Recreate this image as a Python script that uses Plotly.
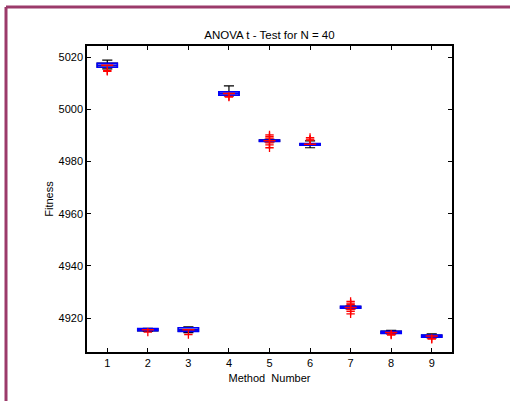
import plotly.graph_objects as go

methods = [1, 2, 3, 4, 5, 6, 7, 8, 9]
q1 = [5016.2, 4915.1, 4914.9, 5005.4, 4987.7, 4986.3, 4923.8, 4914.1, 4912.7]
med = [5016.9, 4915.5, 4915.5, 5006.1, 4988.0, 4986.6, 4924.1, 4914.5, 4913.1]
q3 = [5017.7, 4916.0, 4916.3, 5006.8, 4988.3, 4986.9, 4924.5, 4915.0, 4913.5]
lo = [5015.5, 4914.9, 4914.4, 5005.2, 4987.5, 4985.3, 4923.5, 4913.9, 4912.4]
hi = [5018.9, 4916.1, 4916.6, 5009.0, 4988.5, 4987.9, 4924.7, 4915.3, 4914.0]
outliers = [
    [5014.6, 5014.9],
    [4914.6],
    [4913.7],
    [5004.7, 5005.0],
    [4990.2, 4989.6, 4989.0, 4987.2, 4986.4, 4985.3],
    [4989.2, 4988.6, 4988.2],
    [4926.4, 4925.7, 4925.2, 4923.3, 4922.6, 4921.6],
    [4913.5, 4913.8],
    [4911.9, 4912.2],
]
y_ticks = [4920, 4940, 4960, 4980, 5000, 5020]

FONT = "Liberation Sans, Arial"

fig = go.Figure()
# whiskers / caps in black
fig.add_trace(go.Box(
    x=methods, q1=q1, median=med, q3=q3, lowerfence=lo, upperfence=hi,
    width=0.5, whiskerwidth=0.5, boxpoints=False,
    line=dict(color="#000000", width=1.2), fillcolor="rgba(255,255,255,0)",
    showlegend=False, hoverinfo="skip",
))
# blue box body on top
fig.add_trace(go.Box(
    x=methods, q1=q1, median=med, q3=q3, lowerfence=q1, upperfence=q3,
    width=0.5, whiskerwidth=0, boxpoints=False,
    line=dict(color="#0000ff", width=1.5), fillcolor="rgba(255,255,255,0)",
    showlegend=False, hoverinfo="skip",
))
# red median
fig.add_trace(go.Box(
    x=methods, q1=med, median=med, q3=med, lowerfence=med, upperfence=med,
    width=0.3, whiskerwidth=0, boxpoints=False,
    line=dict(color="#ff0000", width=1.5), fillcolor="rgba(255,255,255,0)",
    showlegend=False, hoverinfo="skip",
))
ox, oy = [], []
for m, vals in zip(methods, outliers):
    for v in vals:
        ox.append(m)
        oy.append(v)
fig.add_trace(go.Scatter(
    x=ox, y=oy, mode="markers",
    marker=dict(symbol="cross-thin-open", size=6, color="#ff0000",
                line=dict(color="#ff0000", width=1.3)),
    showlegend=False, hoverinfo="skip",
))

axis_common = dict(
    showline=True, linecolor="black", linewidth=1.5, mirror="ticks",
    ticks="inside", ticklen=4, tickcolor="black", showgrid=False, zeroline=False,
    tickfont=dict(family=FONT, size=11, color="black"),
)
fig.update_xaxes(range=[0.5, 9.5], tickvals=methods, ticktext=[str(m) for m in methods],
                 title=dict(text="Method  Number", standoff=6,
                            font=dict(family=FONT, size=11, color="black")),
                 **axis_common)
fig.update_yaxes(range=[4907, 5024.3], tickvals=y_ticks, ticktext=[str(t) for t in y_ticks],
                 title=dict(text="Fitness", standoff=3,
                            font=dict(family=FONT, size=11, color="black")),
                 **axis_common)

fig.update_layout(
    width=510, height=401,
    margin=dict(l=87, r=58, t=46, b=49),
    paper_bgcolor="white", plot_bgcolor="white",
    title=dict(text="ANOVA t - Test for N = 40", x=0.5, xanchor="center", xref="paper",
               y=1 - 35 / 401, yanchor="middle",
               font=dict(family=FONT, size=11.5, color="black")),
    shapes=[
        dict(type="line", xref="paper", yref="paper", x0=-81/365, x1=(510-87)/365, y0=1+39/306, y1=1+39/306,
             line=dict(color="#9b3a6a", width=3)),
        dict(type="line", xref="paper", yref="paper", x0=-81/365, x1=-81/365, y0=1+39/306, y1=-49/306,
             line=dict(color="#9b3a6a", width=3)),
    ],
)

fig.write_html("out.html", config={"displayModeBar": False},
               post_script="document.body.style.margin='0';document.body.style.padding='0';")
